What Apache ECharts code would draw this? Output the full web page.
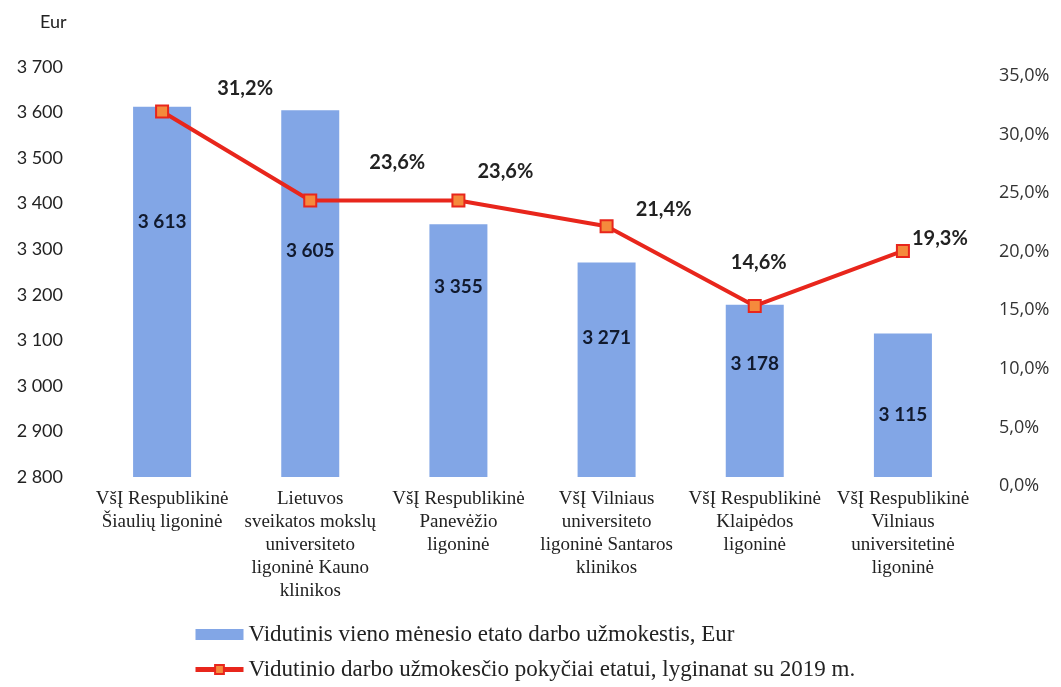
<!DOCTYPE html>
<html>
<head>
<meta charset="utf-8">
<script src="https://cdn.jsdelivr.net/npm/echarts@6/dist/echarts.min.js"></script>
<style>
  html, body { margin: 0; padding: 0; background: #fff; }
  #chart { width: 1061px; height: 687px; }
</style>
</head>
<body>
<div id="chart"></div>
<script>
const categories = [
  'VšĮ Respublikinė\nŠiaulių ligoninė',
  'Lietuvos\nsveikatos mokslų\nuniversiteto\nligoninė Kauno\nklinikos',
  'VšĮ Respublikinė\nPanevėžio\nligoninė',
  'VšĮ Vilniaus\nuniversiteto\nligoninė Santaros\nklinikos',
  'VšĮ Respublikinė\nKlaipėdos\nligoninė',
  'VšĮ Respublikinė\nVilniaus\nuniversitetinė\nligoninė'
]
const salary = [3613, 3605, 3355, 3271, 3178, 3115]
const change = [31.2, 23.6, 23.6, 21.4, 14.6, 19.3]

const barName = 'Vidutinis vieno mėnesio etato darbo užmokestis, Eur'
const lineName = 'Vidutinio darbo užmokesčio pokyčiai etatui, lyginanat su 2019 m.'

// label placement tweaks (Excel put them by hand)
const barLabelShift = [-70, -43, -64, -32, -27, 10]
const lineLabelShift = [[83, 8], [87, -7], [47, 2], [57, 14], [4, -12], [37, 19]]

function spaced(v) {
  return String(v).replace(/\B(?=(\d{3})+(?!\d))/g, ' ')
}

const chart = echarts.init(document.getElementById('chart'))

chart.setOption({
  animation: false,
  textStyle: { fontFamily: 'Lato, "Noto Sans", sans-serif' },
  grid: { left: 88, right: 84, top: 67, bottom: 210 },
  graphic: [{
    type: 'text', left: 40, top: 13,
    style: { text: 'Eur', fontSize: 18, fill: '#222', fontFamily: 'Lato, sans-serif' }
  }],
  legend: {
    orient: 'vertical',
    left: 188,
    top: 618,
    itemGap: 12,
    itemWidth: 48,
    itemHeight: 11,
    textStyle: { fontFamily: '"Liberation Serif", serif', fontSize: 23, color: '#222' },
    data: [
      { name: barName, icon: 'rect' },
      { name: lineName, lineStyle: { width: 5 } }
    ]
  },
  xAxis: {
    type: 'category',
    data: categories,
    axisLine: { show: false },
    axisTick: { show: false },
    axisLabel: {
      interval: 0,
      margin: 11,
      fontFamily: '"Liberation Serif", serif',
      fontSize: 19,
      lineHeight: 23,
      color: '#222'
    }
  },
  yAxis: [{
    type: 'value',
    min: 2800,
    max: 3700,
    interval: 100,
    splitLine: { show: false },
    axisLine: { show: false },
    axisTick: { show: false },
    axisLabel: {
      margin: 25,
      fontSize: 18,
      color: '#222',
      formatter: v => spaced(v)
    }
  }, {
    type: 'value',
    min: 0,
    max: 35,
    interval: 5,
    splitLine: { show: false },
    axisLine: { show: false },
    axisTick: { show: false },
    axisLabel: {
      margin: 22,
      fontSize: 18,
      fontFamily: '"Open Sans", sans-serif',
      color: '#333',
      verticalAlign: 'top',
      formatter: v => v.toFixed(1).replace('.', ',') + '%'
    }
  }],
  series: [{
    name: barName,
    type: 'bar',
    barWidth: 58,
    itemStyle: { color: '#82a6e6' },
    data: salary.map((v, i) => ({
      value: v,
      label: { offset: [0, barLabelShift[i]] }
    })),
    label: {
      show: true,
      position: 'inside',
      fontWeight: 'bold',
      fontSize: 19,
      color: '#111a2e',
      formatter: p => spaced(p.value)
    }
  }, {
    name: lineName,
    type: 'line',
    yAxisIndex: 1,
    symbol: 'rect',
    symbolSize: 12,
    lineStyle: { color: '#e8261c', width: 4 },
    itemStyle: { color: '#f58a3c', borderColor: '#e8261c', borderWidth: 2 },
    data: change.map((v, i) => ({
      value: v,
      label: { offset: lineLabelShift[i] }
    })),
    label: {
      show: true,
      position: 'top',
      distance: 14,
      fontWeight: 'bold',
      fontSize: 20,
      color: '#222',
      formatter: p => p.value.toFixed(1).replace('.', ',') + '%'
    },
    z: 5
  }]
})
</script>
</body>
</html>
